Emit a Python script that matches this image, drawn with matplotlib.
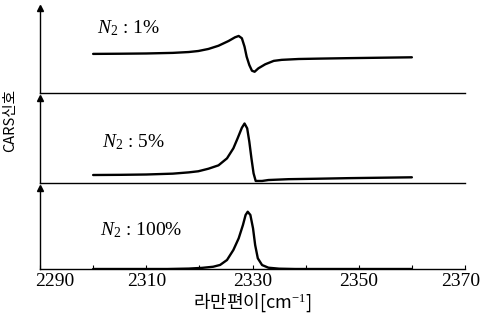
import matplotlib
matplotlib.use("Agg")
import matplotlib.pyplot as plt
import matplotlib.transforms as mtransforms

shift_1 = [2300, 2305, 2310, 2315, 2318, 2319.8, 2321.7, 2323.6, 2325.5, 2326.7,
           2327.4, 2328.0, 2328.5, 2328.9, 2329.4, 2329.9, 2330.4, 2331.1, 2332.4,
           2334.0, 2335.5, 2338.7, 2343, 2348.1, 2354, 2360]
sig_1 = [0.46, 0.462, 0.465, 0.472, 0.482, 0.494, 0.518, 0.556, 0.612, 0.655,
         0.671, 0.644, 0.545, 0.427, 0.329, 0.262, 0.25, 0.29, 0.338,
         0.378, 0.39, 0.40, 0.405, 0.41, 0.415, 0.42]

shift_5 = [2300, 2305, 2310, 2315, 2318, 2319.8, 2321.7, 2323.6, 2325.2, 2326.4,
           2327.2, 2328.0, 2328.5, 2329.0, 2329.4, 2329.8, 2330.2, 2330.6, 2331.8,
           2333.0, 2336.8, 2342, 2348, 2354, 2360]
sig_5 = [0.094, 0.096, 0.10, 0.11, 0.125, 0.138, 0.168, 0.208, 0.29, 0.408,
         0.526, 0.65, 0.70, 0.643, 0.486, 0.29, 0.114, 0.024, 0.024,
         0.035, 0.045, 0.05, 0.057, 0.062, 0.067]

shift_100 = [2300, 2314, 2318, 2320.5, 2322.6, 2323.9, 2325.2, 2326.4, 2327.4,
             2328.2, 2328.7, 2329.1, 2329.6, 2330.1, 2330.5, 2331.0, 2331.8,
             2333.0, 2335, 2338, 2360]
sig_100 = [0.0, 0.0, 0.005, 0.014, 0.028, 0.05, 0.111, 0.235, 0.379,
           0.543, 0.667, 0.707, 0.667, 0.502, 0.296, 0.132, 0.049,
           0.016, 0.004, 0.0, 0.0]

labels = [r"$N_2$ : 1%", r"$N_2$ : 5%", r"$N_2$ : 100%"]
label_pos = [(2300.8, 0.765), (2301.7, 0.48), (2301.3, 0.48)]
major_ticks = [2290, 2310, 2330, 2350, 2370]
minor_ticks = [2300, 2320, 2340, 2360]

plt.rcParams.update({
    "font.family": "Liberation Serif",
    "mathtext.fontset": "custom",
    "mathtext.rm": "Liberation Serif",
    "mathtext.it": "Liberation Serif:italic",
})

fig = plt.figure(figsize=(4.82, 3.24), dpi=100)
left, width = 40 / 482, 425 / 482
boxes = [(93, 85), (183, 85), (269, 81)]  # baseline px, height px
series = [(shift_1, sig_1), (shift_5, sig_5), (shift_100, sig_100)]

axes = []
for (base, h), (xs, ys), lab, (lx, ly) in zip(boxes, series, labels, label_pos):
    ax = fig.add_axes([left, (324 - base) / 324, width, h / 324])
    ax.plot(xs, ys, color="black", lw=1.7, solid_joinstyle="round",
            solid_capstyle="round")
    ax.set_xlim(2290, 2370)
    ax.set_ylim(0, 1)
    for s in ("top", "right"):
        ax.spines[s].set_visible(False)
    ax.spines["left"].set_linewidth(1.0)
    ax.spines["bottom"].set_linewidth(1.0)
    ax.spines["left"].set_bounds(0, 0.96)
    ax.plot(0, 1, marker="^", color="black", ms=4, transform=ax.transAxes,
            clip_on=False)
    ax.set_yticks([])
    ax.text(lx, ly, lab, fontsize=14, va="center", ha="left")
    axes.append(ax)

for ax in axes[:2]:
    ax.set_xticks([])

ax = axes[2]
ax.set_xticks(major_ticks)
ax.set_xticks(minor_ticks, minor=True)
ax.tick_params(axis="x", which="both", direction="in", length=3, width=0.8,
               labelsize=14, pad=3)
ax.set_xlabel("라만편이[cm$^{-1}$]", family=["Noto Sans CJK KR", "DejaVu Sans"],
              fontsize=13, labelpad=1)
ticklabs = ax.get_xticklabels()
first_shift = mtransforms.ScaledTranslation(0.15, 0, fig.dpi_scale_trans)
ticklabs[0].set_transform(ticklabs[0].get_transform() + first_shift)
last_shift = mtransforms.ScaledTranslation(-0.04, 0, fig.dpi_scale_trans)
ticklabs[-1].set_transform(ticklabs[-1].get_transform() + last_shift)

fig.text(0.022, (324 - 121) / 324, "CARS신호", rotation=90, ha="center",
         va="center", fontsize=10.5, family=["Noto Sans CJK KR", "DejaVu Sans"])

fig.savefig("out.png", dpi=100)
